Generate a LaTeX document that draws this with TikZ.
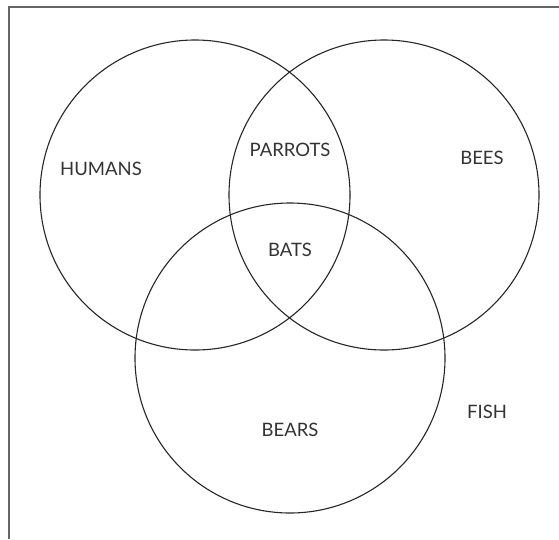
\documentclass[tikz,border=0pt]{standalone}
\usepackage{fontspec}
\setmainfont{Lato}
\usetikzlibrary{positioning}

\begin{document}
\begin{tikzpicture}[
		x=1pt, y=-1pt,
		set/.style={
			draw=black!85,
			circle,
			line width=1.1pt,
			minimum size=310pt,
			inner sep=0pt
		},
		tag/.style={
			text=black!80,
			inner sep=0pt,
			font=\fontsize{18.5}{20}\selectfont
		}
		]
		
		\useasboundingbox (0,0) rectangle (559,539);
		
		%--------------------------------------------------
		% Frame
		%--------------------------------------------------
		
		\coordinate (tl) at (9,7);
		\coordinate (tr) at (559,7);
		\coordinate (bl) at (9,539);
		\draw[black!60,line width=2pt] (bl) -- (tl) -- (tr);
		
		%--------------------------------------------------
		% Sets
		%--------------------------------------------------
		
		\node[set] (humans) at (195,195) {};
		\node[set] (bees) at (384,195) {};
		\node[set] (bears) at (290,358) {};
		
		%--------------------------------------------------
		% Labels
		%--------------------------------------------------
		
		\node[tag] (lhumans) at (101,169) {HUMANS};
		\node[tag] (lparrots) at (290,150) {PARROTS};
		\node[tag] (lbees) at (482,158) {BEES};
		\node[tag] (lbats) at (290,250) {BATS};
		\node[tag] (lbears) at (290,430) {BEARS};
		\node[tag] (lfish) at (487,412) {FISH};
		
	\end{tikzpicture}
\end{document}
